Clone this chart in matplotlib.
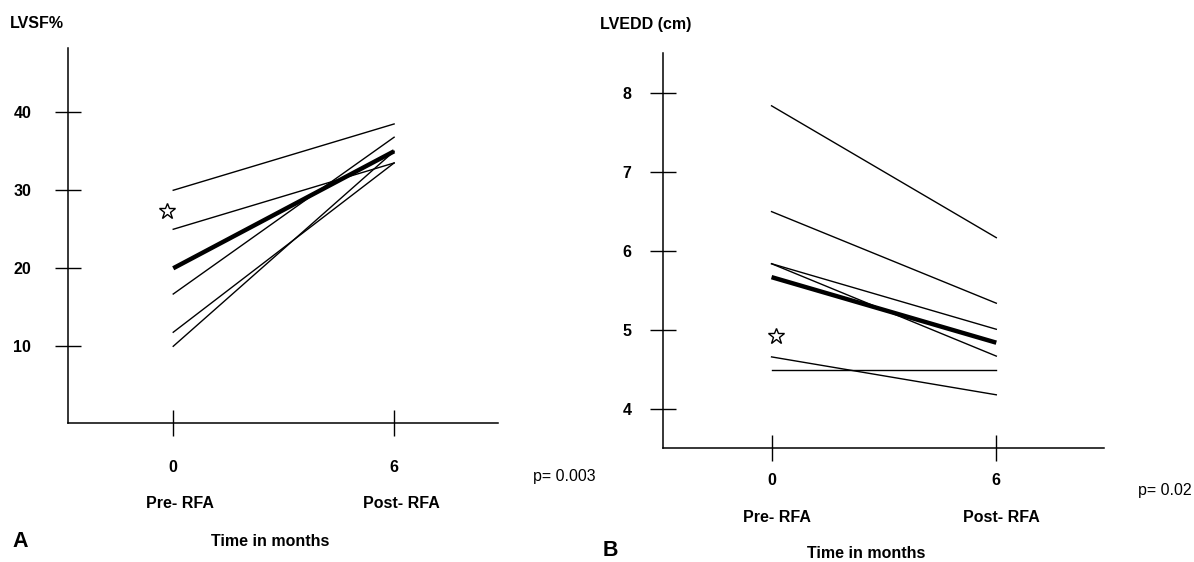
import matplotlib
matplotlib.use('Agg')
import matplotlib.pyplot as plt

# data
months = [0, 6]
tick_text = ['0', '6']

lvsf_pre = [30, 25, 16.7, 11.8, 10]
lvsf_post = [38.5, 33.5, 36.8, 33.5, 35]
lvsf_mean = [20, 35]
lvsf_star = (-0.18, 27.4)
lvsf_ticks = [10, 20, 30, 40]

lvedd_pre = [7.84, 6.5, 5.84, 5.84, 4.66, 4.5]
lvedd_post = [6.17, 5.34, 5.01, 4.67, 4.18, 4.5]
lvedd_mean = [5.67, 4.84]
lvedd_star = (0.13, 4.92)
lvedd_ticks = [4, 5, 6, 7, 8]

W, H = 1194, 562
plt.rcParams['font.family'] = ['Liberation Sans', 'DejaVu Sans']
plt.rcParams['font.weight'] = 'bold'

fig = plt.figure(figsize=(W / 100, H / 100), dpi=100)


def px_axes(left, top, right, bottom):
    # axes box given in image pixels
    return fig.add_axes([left / W, 1 - bottom / H, (right - left) / W, (bottom - top) / H])


def ftext(x, y, s, **kw):
    fig.text(x / W, 1 - y / H, s, **kw)


def style(ax, yticks, ypad, xpad):
    for side in ['top', 'right']:
        ax.spines[side].set_visible(False)
    for side in ['left', 'bottom']:
        ax.spines[side].set_linewidth(1.1)
    ax.set_xticks(months)
    ax.set_xticklabels(tick_text)
    ax.set_yticks(yticks)
    ax.set_yticklabels([str(t) for t in yticks])
    ax.tick_params(direction='inout', length=18.7, width=1.0, labelsize=11.5)
    ax.tick_params(axis='y', pad=ypad)
    ax.tick_params(axis='x', pad=xpad)


# panel A
axA = px_axes(68.3, 47.5, 498.3, 423.3)
for a, b in zip(lvsf_pre, lvsf_post):
    axA.plot(months, [a, b], color='black', lw=1.0)
axA.plot(months, lvsf_mean, color='black', lw=3.2, solid_capstyle='butt')
axA.plot([lvsf_star[0]], [lvsf_star[1]], marker='*', ms=12, mfc='white', mec='black', mew=1.0)
axA.set_xlim(-2.85, 8.83)
axA.set_ylim(0.13, 48.3)
style(axA, lvsf_ticks, 17.3, 17)

# panel B
axB = px_axes(663.3, 52.9, 1103.8, 447.7)
for a, b in zip(lvedd_pre, lvedd_post):
    axB.plot(months, [a, b], color='black', lw=1.0)
axB.plot(months, lvedd_mean, color='black', lw=3.2, solid_capstyle='butt')
axB.plot([lvedd_star[0]], [lvedd_star[1]], marker='*', ms=12, mfc='white', mec='black', mew=1.0)
axB.set_xlim(-2.89, 8.87)
axB.set_ylim(3.51, 8.51)
style(axB, lvedd_ticks, 13.7, 9)

# titles, labels and notes
ftext(10, 24, 'LVSF%', fontsize=11.5, va='center')
ftext(600, 25, 'LVEDD (cm)', fontsize=11.5, va='center')

ftext(179.5, 504, 'Pre- RFA', fontsize=11.5, ha='center', va='center')
ftext(401.5, 504, 'Post- RFA', fontsize=11.5, ha='center', va='center')
ftext(270, 542, 'Time in months', fontsize=11.5, ha='center', va='center')
ftext(12, 541.5, 'A', fontsize=15.5, va='center')
ftext(533, 477, 'p= 0.003', fontsize=11.5, fontweight='normal', va='center')

ftext(777, 517, 'Pre- RFA', fontsize=11.5, ha='center', va='center')
ftext(1001, 517, 'Post- RFA', fontsize=11.5, ha='center', va='center')
ftext(866, 553, 'Time in months', fontsize=11.5, ha='center', va='center')
ftext(603, 551, 'B', fontsize=15.5, va='center')
ftext(1138, 490, 'p= 0.02', fontsize=11.5, fontweight='normal', va='center')

fig.savefig('out.png', dpi=100)
